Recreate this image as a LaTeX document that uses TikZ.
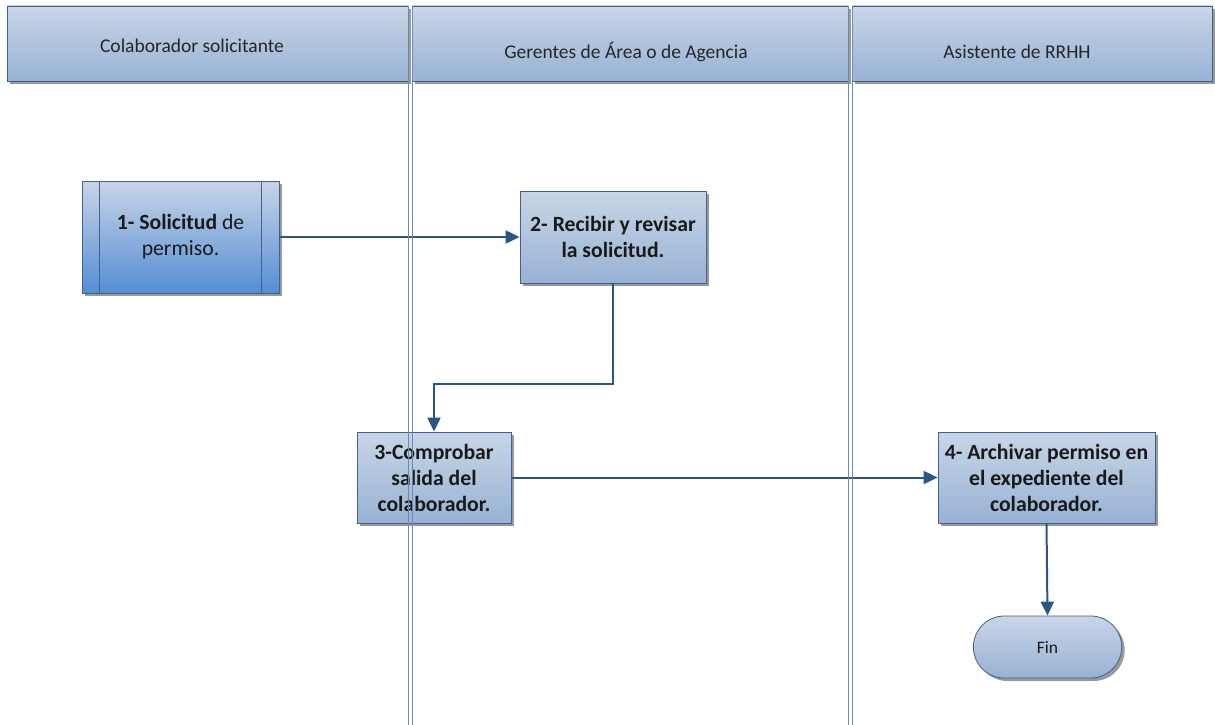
\documentclass[tikz,border=0pt]{standalone}
\usepackage{fontspec}
\setmainfont{Carlito}
\usetikzlibrary{shapes,arrows,arrows.meta,positioning,shadows}
\definecolor{borde}{HTML}{3E6296}
\definecolor{azulflecha}{HTML}{2B5587}
\definecolor{claro}{HTML}{C8D5E7}
\definecolor{medio}{HTML}{98B2D4}
\definecolor{fuerte}{HTML}{548DD4}
\definecolor{linea}{HTML}{6F88AF}
\tikzstyle{sombra} = [drop shadow={shadow xshift=3pt, shadow yshift=-3pt, fill=black!40, opacity=1}]
\tikzstyle{encabezado} = [draw=borde, thick, top color=claro, bottom color=medio, rectangle, minimum height=75pt, sombra]
\tikzstyle{titulo} = [font=\fontsize{19.5}{23}\selectfont, text=black!85]
\tikzstyle{actividad} = [draw=borde, thick, top color=claro, bottom color=medio, rectangle, align=center, font=\bfseries\fontsize{21.7}{26}\selectfont, text=black!90, sombra]
\tikzstyle{flecha} = [draw=azulflecha, line width=2pt, -{Triangle[length=14pt,width=13pt]}]
\tikzstyle{carril} = [draw=linea, line width=1pt]

\begin{document}
\begin{tikzpicture}[x=1pt,y=1pt]
	\useasboundingbox (0,0) rectangle (1215,-725);
	% encabezados de carril
	\node[encabezado, minimum width=401pt] (enc1) at (207.5,-43.5) {};
	\node[encabezado, minimum width=436pt] (enc2) at (630,-43.5) {};
	\node[encabezado, minimum width=360pt] (enc3) at (1032,-43.5) {};
	\node[titulo] (tit1) at (192,-46) {Colaborador solicitante};
	\node[titulo] (tit2) at (626,-52) {Gerentes de Área o de Agencia};
	\node[titulo] (tit3) at (1017,-52) {Asistente de RRHH};
	% actividades
	\node[actividad, bottom color=fuerte, minimum width=197pt, minimum height=112pt, font=\fontsize{21.7}{26}\selectfont] (solicitud) at (180.5,-237) {\textbf{1- Solicitud} de\\permiso.};
	\draw[borde, thick] ([xshift=18pt]solicitud.north west) -- ([xshift=18pt]solicitud.south west);
	\draw[borde, thick] ([xshift=-18pt]solicitud.north east) -- ([xshift=-18pt]solicitud.south east);
	\node[actividad, minimum width=186pt, minimum height=92pt] (revisar) at (613,-237) {2- Recibir y revisar\\la solicitud.};
	\node[actividad, minimum width=154pt, minimum height=91pt] (comprobar) at (434,-477.5) {3-Comprobar\\salida del\\colaborador.};
	\node[actividad, minimum width=217pt, minimum height=91pt] (archivar) at (1046.5,-477.5) {4- Archivar permiso en\\el expediente del\\colaborador.};
	\node[actividad, rounded rectangle, minimum width=155pt, minimum height=62pt, font=\fontsize{17.5}{21}\selectfont] (fin) at (1047.5,-647) {Fin};
	% conectores
	\draw[flecha] (solicitud.east) -- (revisar.west);
	\draw[flecha] (revisar.south) -- ++(0,-101) -| (comprobar.north);
	\draw[flecha] (comprobar.east) -- (archivar.west);
	\draw[flecha] (archivar.south) -- (fin.north);
	% separadores de carril
	\draw[carril] (408,-6) -- (408,-725);
	\draw[carril] (412,-6) -- (412,-725);
	\draw[carril] (848,-6) -- (848,-725);
	\draw[carril] (852,-6) -- (852,-725);
\end{tikzpicture}
\end{document}
